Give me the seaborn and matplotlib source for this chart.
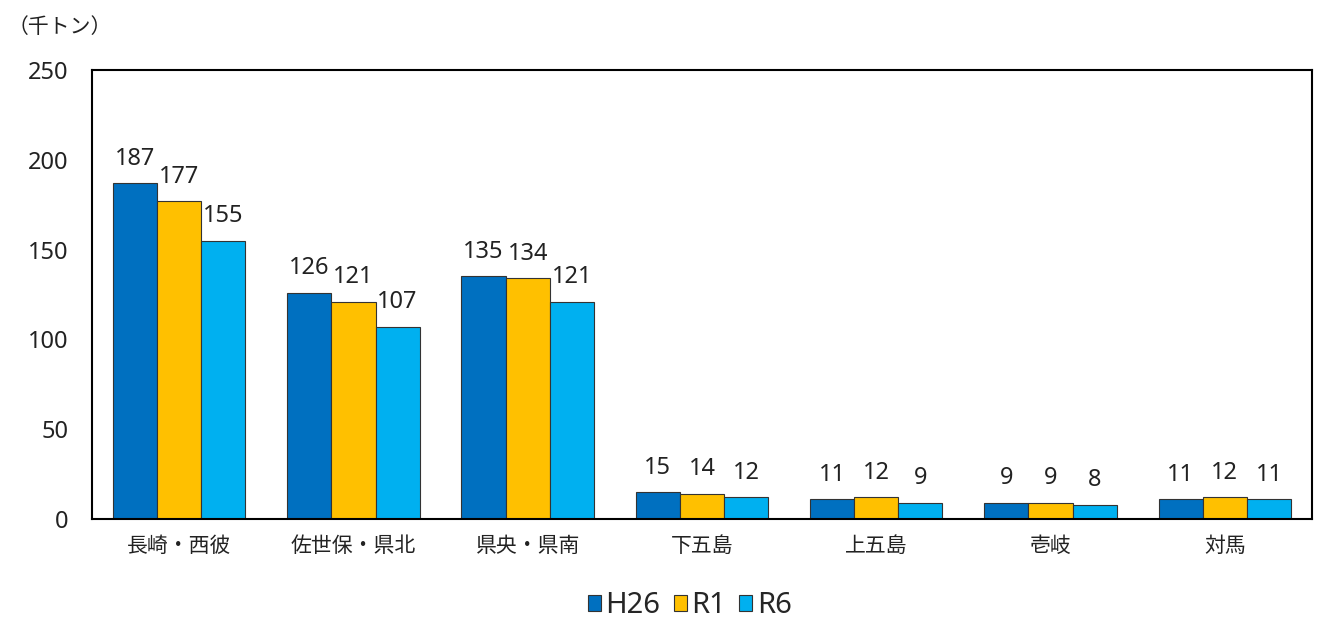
import matplotlib
matplotlib.use("Agg")
import matplotlib.pyplot as plt
import seaborn as sns
import pandas as pd

categories = ["長崎・西彼", "佐世保・県北", "県央・県南", "下五島", "上五島", "壱岐", "対馬"]
series = ["H26", "R1", "R6"]
h26 = [187, 126, 135, 15, 11, 9, 11]
r1 = [177, 121, 134, 14, 12, 9, 12]
r6 = [155, 107, 121, 12, 9, 8, 11]
colors = ["#0070C0", "#FFC000", "#00B0F0"]

rows = []
for name, vals in zip(series, [h26, r1, r6]):
    for c, v in zip(categories, vals):
        rows.append({"地域": c, "年": name, "値": v})
df = pd.DataFrame(rows)

sns.set_theme(style="white")
plt.rcParams["font.family"] = ["Noto Sans", "Noto Sans CJK JP", "DejaVu Sans"]

fig = plt.figure(figsize=(13.22, 6.19), dpi=100)
ax = fig.add_axes([0.0696, 0.1616, 0.9228, 0.7254])

sns.barplot(data=df, x="地域", y="値", hue="年", palette=colors, width=0.76,
            edgecolor="#333333", linewidth=0.8, ax=ax, legend=True, saturation=1)

for cont in ax.containers:
    ax.bar_label(cont, padding=9, fontsize=17, color="#222222")

ax.set_ylim(0, 250)
ax.set_yticks([0, 50, 100, 150, 200, 250])
ax.set_xlim(-0.5, 6.5)
ax.set_xlabel("")
ax.set_ylabel("")
ax.tick_params(axis="y", length=0, labelsize=17, pad=17, colors="#222222")
ax.tick_params(axis="x", length=0, labelsize=15, pad=12, colors="#222222")
for s in ax.spines.values():
    s.set_visible(True)
    s.set_color("black")
    s.set_linewidth(1.5)

leg = ax.legend(loc="upper center", bbox_to_anchor=(0.49, -0.155), ncol=3, frameon=False,
                fontsize=21, handlelength=0.45, handleheight=0.45, handletextpad=0.15,
                columnspacing=0.45, borderaxespad=0, borderpad=0.1)

fig.text(0.006, 0.955, "（千トン）", fontsize=15, color="#222222", va="center", ha="left")

fig.savefig("out.png", dpi=100)
